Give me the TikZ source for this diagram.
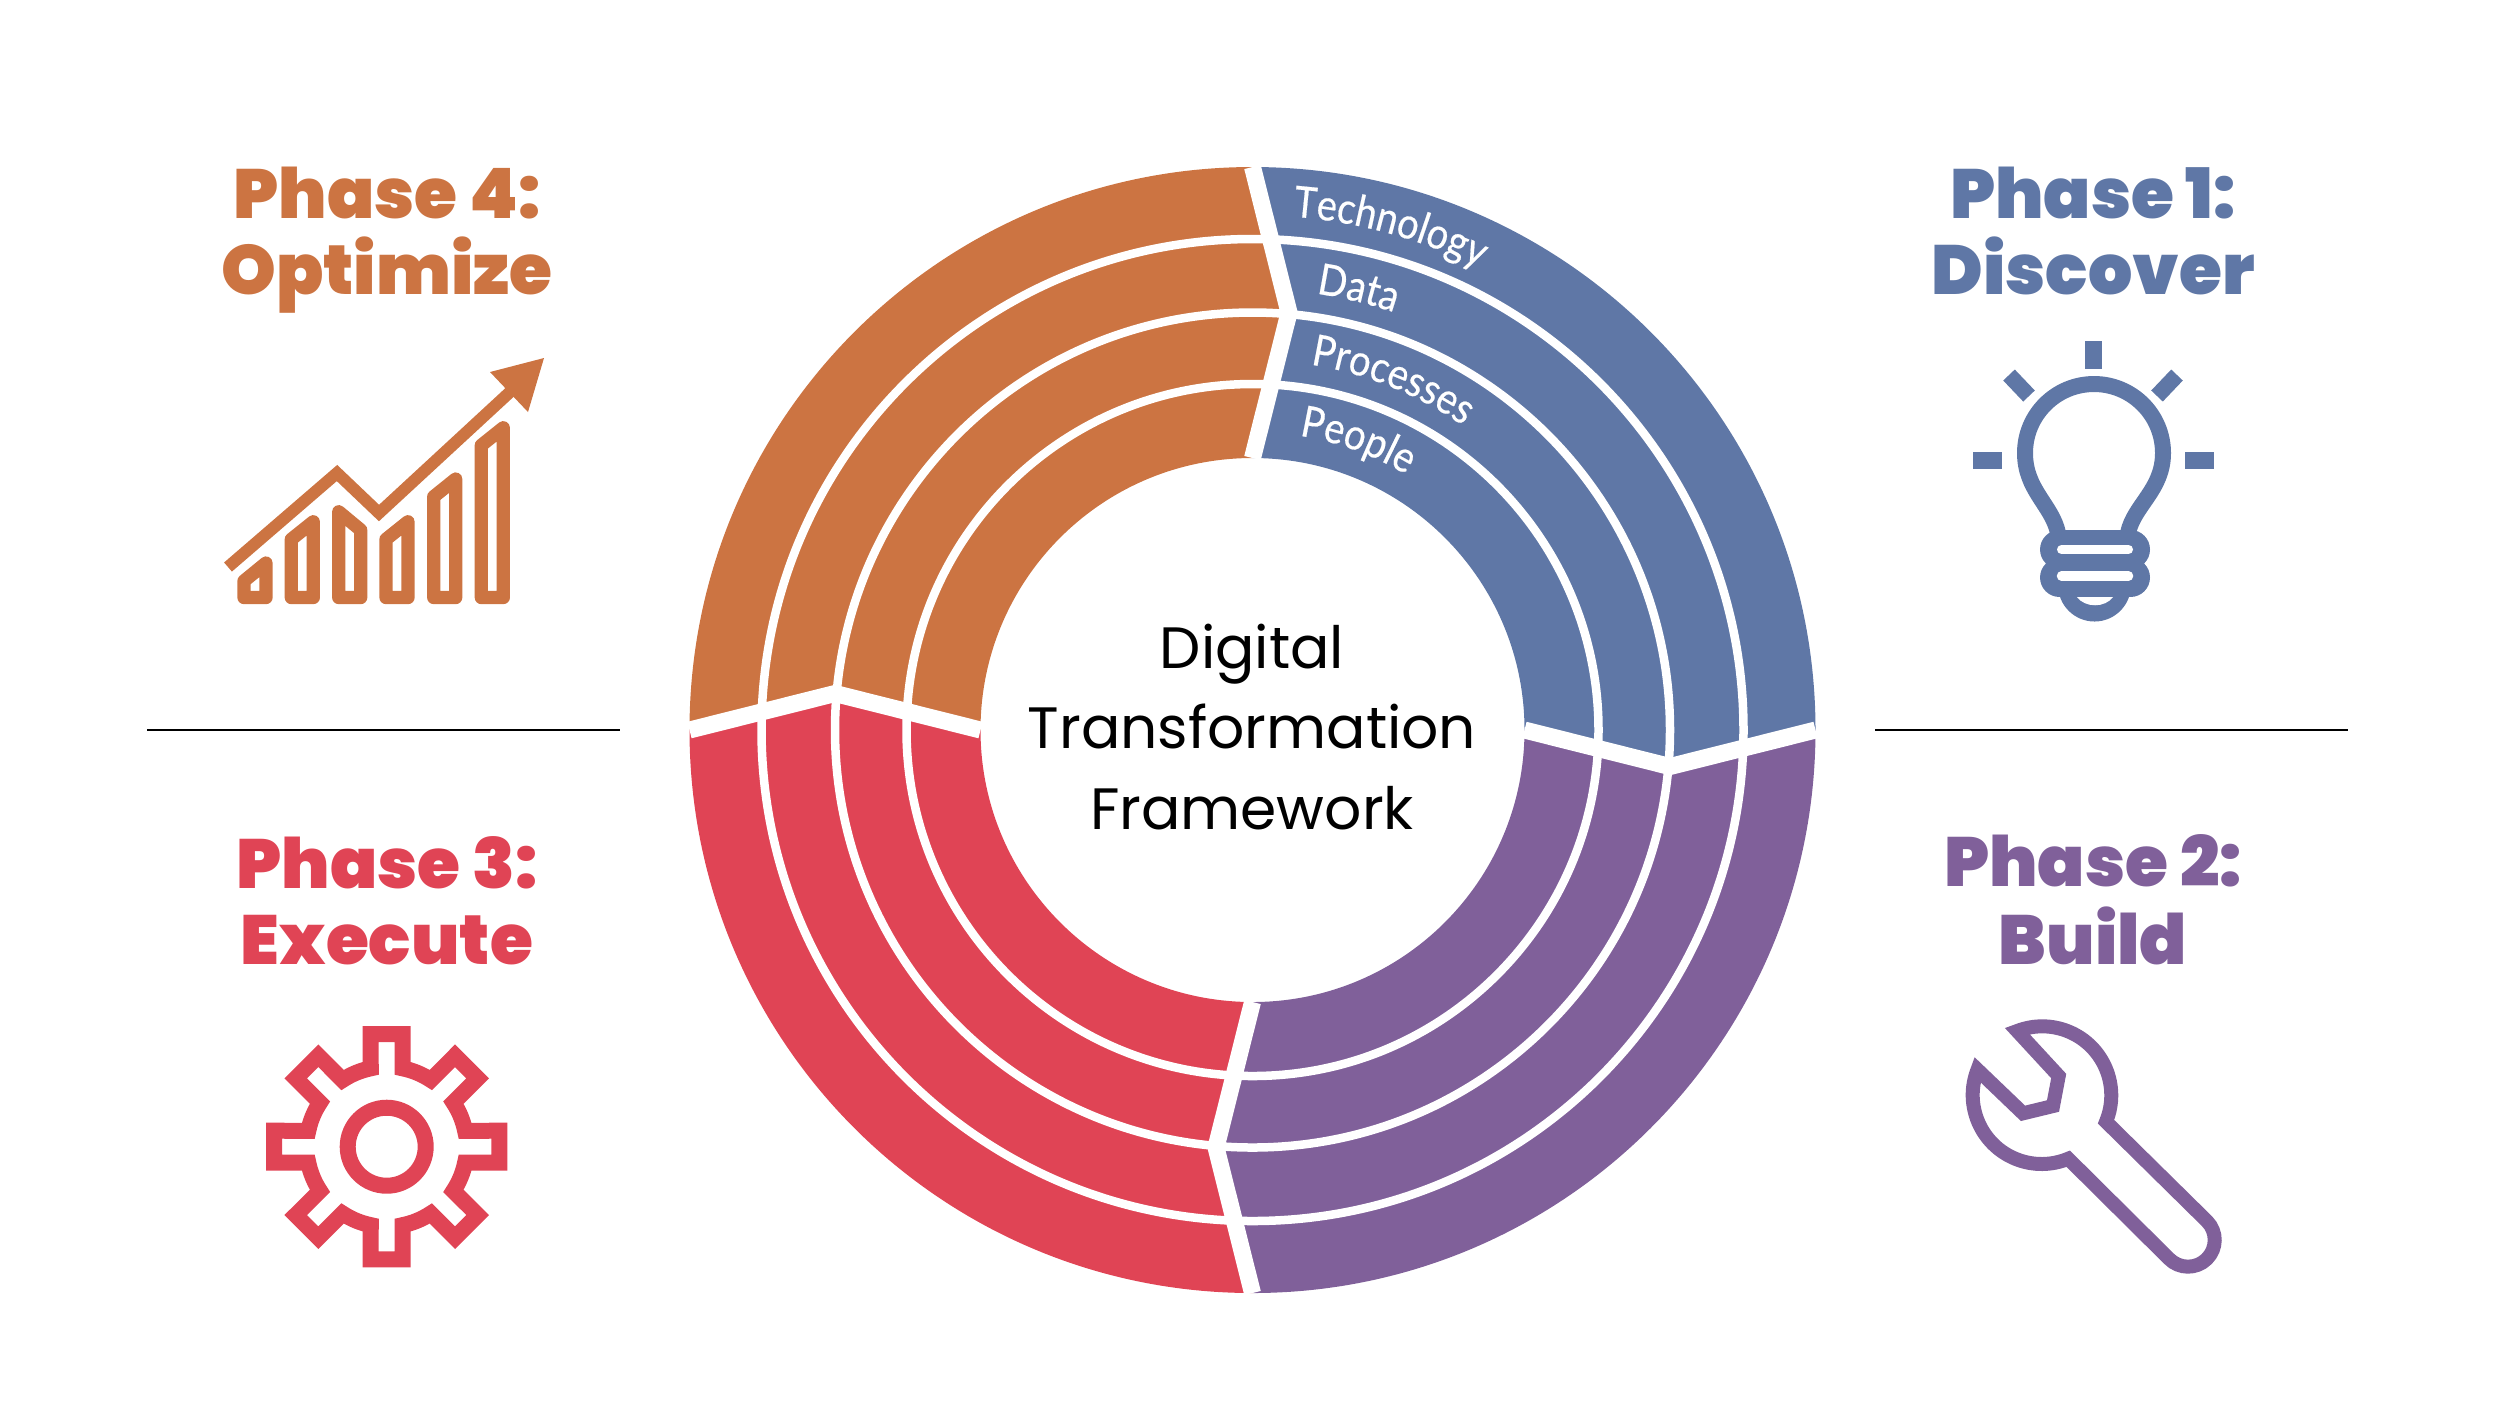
\documentclass[tikz,border=0pt]{standalone}
\usepackage{fontspec}
\setmainfont{Poppins}
\newfontfamily\headfont{Poppins Black}
\newfontfamily\ringfont[FakeStretch=0.88,FakeBold=0.4]{Lato}
\usetikzlibrary{decorations.text}
\definecolor{phaseblue}{HTML}{5F77A6}
\definecolor{phasepurple}{HTML}{80609A}
\definecolor{phasered}{HTML}{E04455}
\definecolor{phaseorange}{HTML}{CC7442}
\begin{document}
\begin{tikzpicture}[
  x=.1mm,y=-.1mm,
  head/.style={font=\headfont\fontsize{19.8}{21.5}\selectfont,align=center,inner sep=0pt},
  hub/.style={font=\fontsize{16.6}{23}\selectfont,align=center,inner sep=0pt},
  icon/.style={line width=1.6mm,miter limit=10},
  rule/.style={line width=.2mm,black},
  ringlabel/.style={decorate,decoration={text along path,
    text={|\ringfont\fontsize{12.3}{12.3}\selectfont\color{white}|#1}}}]
\useasboundingbox (0,0) rectangle (2500,1403);
% rings
\begin{scope}[shift={(1252.5,730)}]
\foreach \ang/\col in {-90/phaseblue,0/phasepurple,90/phasered,180/phaseorange}
  \fill[\col] (\ang:563) arc[start angle=\ang,end angle=\ang+90,radius=563]
    -- (\ang+95:419) -- (\ang+90:272) arc[start angle=\ang+90,end angle=\ang,radius=272]
    -- (\ang+5:419) -- cycle;
\foreach \rad in {346,417.5,491}
  \draw[white,line width=.85mm] (0,0) circle[radius=\rad];
\foreach \ang in {-90,0,90,180}
  \draw[white,line width=1.7mm,line cap=square,miter limit=10] (\ang:563) -- (\ang+5:419) -- (\ang:272);
\path[ringlabel=Technology] (-85.5:515) arc[start angle=-85.5,end angle=-40,radius=515];
\path[ringlabel=Data] (-81.7:441) arc[start angle=-81.7,end angle=-40,radius=441];
\path[ringlabel=Processes] (-81:370) arc[start angle=-81,end angle=-20,radius=370];
\path[ringlabel=People] (-81:298) arc[start angle=-81,end angle=-20,radius=298];
\end{scope}
\node[hub] (hub) at (1252,727) {Digital\\Transformation\\Framework};
% dividers
\coordinate (leftA) at (147,730);
\coordinate (leftB) at (620,730);
\coordinate (rightA) at (1875,730);
\coordinate (rightB) at (2348,730);
\draw[rule] (leftA) -- (leftB);
\draw[rule] (rightA) -- (rightB);
% headings
\node[head,text=phaseorange] (optimize) at (387,240) {Phase 4:\\Optimize};
\node[head,text=phaseblue] (discover) at (2093,231) {Phase 1:\\Discover};
\node[head,text=phasered] (execute) at (387,901) {Phase 3:\\Execute};
\node[head,text=phasepurple] (build) at (2093,900) {Phase 2:\\[.8pt]Build};
% chart
\begin{scope}[phaseorange]
\draw[line width=1.2mm] (228,567) -- (337,473) -- (379,513) -- (510,392);
\fill (544,358) -- (490,372) -- (528,412) -- cycle;
\foreach \xl/\yl/\yr in {244/581/563,291.3/539.3/521.7,338.7/511.7/530,386/539.3/521.7,433.7/496.7/479,481.3/445.3/427.7}
  \draw[line width=1.33mm,line join=round] (\xl,597.5) -- (\xl,\yl) -- (\xl+22,\yr) -- (\xl+22,597.5) -- cycle;
\end{scope}
% bulb
\begin{scope}[phaseblue]
\fill (2085,341) rectangle (2102,369);
\fill (1973,452) rectangle (2002,469);
\fill (2185,452) rectangle (2214,469);
\draw[icon] (2009,375) -- (2029,396);
\draw[icon] (2177,375) -- (2157,396);
\draw[icon] (2058,533) .. controls (2052,505) and (2025,490) .. (2025,453)
  arc[start angle=180,end angle=360,radius=69]
  .. controls (2163,490) and (2134,505) .. (2128,533);
\draw[line width=3.9mm,line cap=round] (2059.5,549.5) -- (2130.5,549.5);
\draw[line width=3.9mm,line cap=round] (2059.5,577.5) -- (2130.5,577.5);
\fill (2058,585) -- (2131,585) arc[start angle=0,end angle=180,radius=36.5] -- cycle;
\draw[white,line width=.9mm,line cap=round] (2061.5,549.5) -- (2128.5,549.5);
\draw[white,line width=.95mm,line cap=round] (2061.5,576) -- (2128.5,576);
\fill[white] (2077,597) .. controls (2085,608) and (2105,608) .. (2113,597) -- cycle;
\end{scope}
% gear
\begin{scope}[shift={(386.7,1146.7)},phasered]
\draw[icon] (-11.5:80) \foreach \a in {0,45,...,315} {
    -- (\a-8.08:113.8) -- (\a+8.08:113.8) -- (\a+11.5:80)
    arc[start angle=\a+11.5,end angle=\a+33.5,radius=80]} -- cycle;
\draw[icon] (0,0) circle[radius=39];
\end{scope}
% wrench
\draw[icon,line width=1.4mm,phasepurple] (1977.5,1069.7) arc[start angle=201.5,end angle=67.4,radius=69]
  -- (2169,1258.7) arc[start angle=135.4,end angle=-44.6,radius=26.7]
  -- (2106,1121.7) arc[start angle=22.5,end angle=-111.3,radius=69]
  -- (2058.7,1076) -- (2053,1106) -- (2023,1113.3) -- cycle;
\end{tikzpicture}
\end{document}
